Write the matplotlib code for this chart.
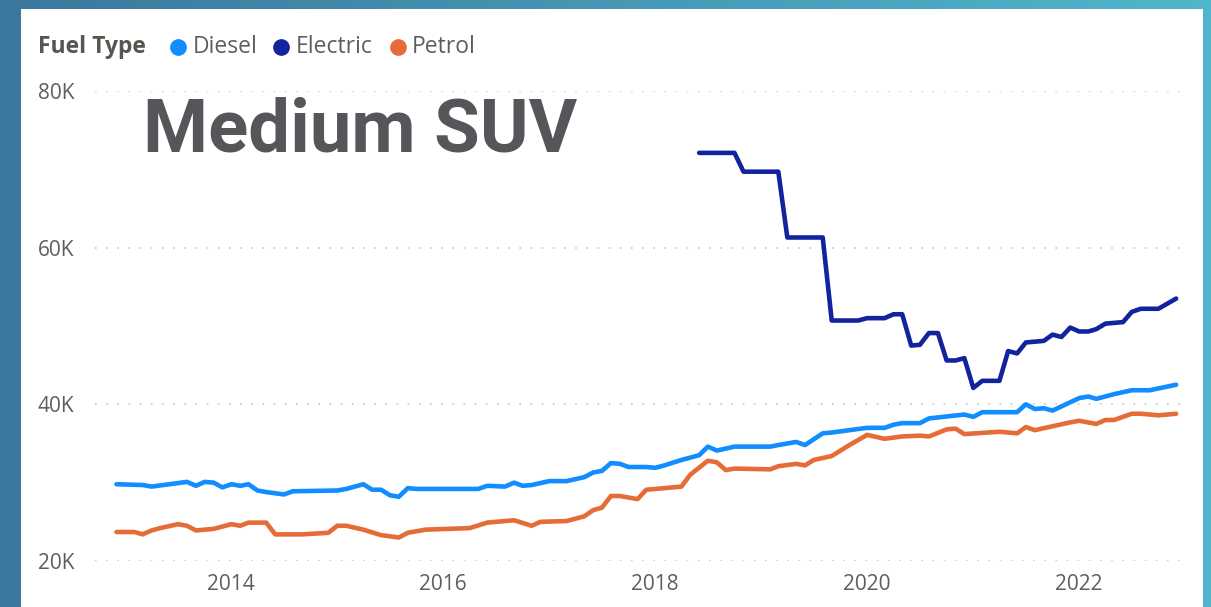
# Average price by fuel type, Medium SUV segment (Power BI style line chart)

import numpy as np, pandas as pd
import matplotlib
matplotlib.use("Agg")
from matplotlib import pyplot as plt
from matplotlib.patches import Rectangle
from matplotlib.lines import Line2D
import matplotlib.dates as mdates
from matplotlib.ticker import FuncFormatter

# Data (values in thousands)
diesel_months = ["2012-12", "2013-03", "2013-04", "2013-06", "2013-08", "2013-09", "2013-10", "2013-11",
                 "2013-12", "2014-01", "2014-02", "2014-03", "2014-04", "2014-05", "2014-07", "2014-08",
                 "2015-01", "2015-02", "2015-04", "2015-05", "2015-06", "2015-07", "2015-08", "2015-09",
                 "2015-10", "2016-05", "2016-06", "2016-08", "2016-09", "2016-10", "2016-11", "2017-01",
                 "2017-03", "2017-05", "2017-06", "2017-07", "2017-08", "2017-09", "2017-10", "2017-12",
                 "2018-01", "2018-02", "2018-04", "2018-06", "2018-07", "2018-08", "2018-10", "2019-02",
                 "2019-03", "2019-05", "2019-06", "2019-08", "2019-09", "2019-11", "2020-01", "2020-03",
                 "2020-04", "2020-05", "2020-07", "2020-08", "2020-12", "2021-01", "2021-02", "2021-06",
                 "2021-07", "2021-08", "2021-09", "2021-10", "2022-01", "2022-02", "2022-03", "2022-05",
                 "2022-07", "2022-09", "2022-12"]
diesel_values = [29.8, 29.7, 29.5, 29.8, 30.1, 29.6, 30.1, 30.0, 29.4, 29.8, 29.6, 29.8, 29.0, 28.8, 28.5,
                 28.9, 29.0, 29.2, 29.8, 29.1, 29.1, 28.4, 28.2, 29.3, 29.2, 29.2, 29.6, 29.5, 30.0, 29.6,
                 29.7, 30.2, 30.2, 30.7, 31.3, 31.5, 32.5, 32.4, 32.0, 32.0, 31.9, 32.2, 32.9, 33.5, 34.6,
                 34.1, 34.6, 34.6, 34.8, 35.2, 34.8, 36.3, 36.4, 36.7, 37.0, 37.0, 37.4, 37.6, 37.6, 38.2,
                 38.7, 38.4, 39.0, 39.0, 40.0, 39.4, 39.5, 39.2, 40.8, 41.0, 40.7, 41.3, 41.8, 41.8, 42.5]

petrol_months = ["2012-12", "2013-02", "2013-03", "2013-04", "2013-05", "2013-07", "2013-08", "2013-09",
                 "2013-11", "2014-01", "2014-02", "2014-03", "2014-05", "2014-06", "2014-09", "2014-12",
                 "2015-01", "2015-02", "2015-04", "2015-06", "2015-08", "2015-09", "2015-11", "2016-04",
                 "2016-06", "2016-09", "2016-11", "2016-12", "2017-03", "2017-05", "2017-06", "2017-07",
                 "2017-08", "2017-09", "2017-11", "2017-12", "2018-02", "2018-04", "2018-05", "2018-07",
                 "2018-08", "2018-09", "2018-10", "2019-02", "2019-03", "2019-05", "2019-06", "2019-07",
                 "2019-09", "2019-11", "2020-01", "2020-03", "2020-05", "2020-07", "2020-08", "2020-10",
                 "2020-11", "2020-12", "2021-04", "2021-06", "2021-07", "2021-08", "2021-10", "2021-12",
                 "2022-01", "2022-03", "2022-04", "2022-05", "2022-07", "2022-08", "2022-10", "2022-12"]
petrol_values = [23.7, 23.7, 23.4, 23.9, 24.2, 24.7, 24.5, 23.9, 24.1, 24.7, 24.5, 24.9, 24.9, 23.4, 23.4,
                 23.6, 24.5, 24.5, 24.0, 23.3, 23.0, 23.6, 24.0, 24.2, 24.9, 25.2, 24.5, 25.0, 25.1, 25.7,
                 26.5, 26.8, 28.3, 28.3, 27.9, 29.1, 29.3, 29.5, 31.0, 32.8, 32.6, 31.6, 31.8, 31.7, 32.1,
                 32.4, 32.2, 32.9, 33.4, 34.8, 36.1, 35.6, 35.9, 36.0, 35.9, 36.8, 36.9, 36.2, 36.5, 36.3,
                 37.1, 36.7, 37.2, 37.7, 37.9, 37.5, 38.0, 38.0, 38.8, 38.8, 38.6, 38.8]

electric_months = ["2018-06", "2018-10", "2018-11", "2019-03", "2019-04", "2019-08", "2019-09", "2019-12",
                   "2020-01", "2020-03", "2020-04", "2020-05", "2020-06", "2020-07", "2020-08", "2020-09",
                   "2020-10", "2020-11", "2020-12", "2021-01", "2021-02", "2021-04", "2021-05", "2021-06",
                   "2021-07", "2021-09", "2021-10", "2021-11", "2021-12", "2022-01", "2022-02", "2022-03",
                   "2022-04", "2022-06", "2022-07", "2022-08", "2022-10", "2022-12"]
electric_values = [72.1, 72.1, 69.7, 69.7, 61.3, 61.3, 50.7, 50.7, 51.0, 51.0, 51.5, 51.5, 47.5, 47.6,
                   49.1, 49.1, 45.6, 45.6, 45.9, 42.1, 43.0, 43.0, 46.8, 46.5, 47.9, 48.1, 48.9, 48.6,
                   49.8, 49.3, 49.3, 49.6, 50.3, 50.5, 51.8, 52.2, 52.2, 53.5]

series = [("Diesel", diesel_months, diesel_values, "#118DFF"),
          ("Electric", electric_months, electric_values, "#12239E"),
          ("Petrol", petrol_months, petrol_values, "#E66C37")]
year_ticks = [2014, 2016, 2018, 2020, 2022]
y_ticks = [20, 40, 60, 80]

W, H = 1211, 607
plt.rcParams["font.family"] = ["Open Sans", "DejaVu Sans"]
fig = plt.figure(figsize=(W / 100, H / 100), dpi=100)

def fx(x): return x / W
def fy(y): return 1 - y / H

# Blue gradient backdrop + white card
bg = fig.add_axes([0, 0, 1, 1], zorder=-10)
grad = np.linspace(0, 1, 256)
left, right = np.array([60, 120, 157]) / 255, np.array([80, 182, 204]) / 255
bg.imshow((left + grad[:, None] * (right - left))[None, :, :], aspect="auto", extent=[0, 1, 0, 1])
bg.axis("off")
fig.patches.append(Rectangle((fx(21), 0), fx(1203) - fx(21), fy(9), transform=fig.transFigure,
                             facecolor="white", edgecolor="none", zorder=-5))

ax = fig.add_axes([fx(95), fy(561), fx(1186) - fx(95), fy(91) - fy(561)])
ax.set_facecolor("none")
for name, months, vals, col in series:
    ax.plot(pd.to_datetime(months), vals, color=col, lw=3.3,
            solid_capstyle="round", solid_joinstyle="round")

ax.set_xlim(pd.Timestamp("2012-09-18"), pd.Timestamp("2023-01-04"))
ax.set_ylim(20, 80)
ax.set_yticks(y_ticks)
ax.yaxis.set_major_formatter(FuncFormatter(lambda v, p: f"{v:.0f}K"))
ax.set_xticks([pd.Timestamp(f"{y}-01-01") for y in year_ticks])
ax.xaxis.set_major_formatter(mdates.DateFormatter("%Y"))
ax.tick_params(length=0, labelsize=15, labelcolor="#605E5C")
ax.tick_params(axis="y", pad=15)
ax.tick_params(axis="x", pad=9)
ax.grid(axis="y", color="#C8C6C4", lw=1.2, dashes=(1, 5.7))
for s in ax.spines.values():
    s.set_visible(False)

# Legend drawn by hand, like the Power BI header
fig.text(fx(38), fy(47), "Fuel Type", fontsize=16.5, fontweight="bold", color="#5A5550", va="center")
for (name, _, _, col), cx, tx in zip(series, [178, 281, 398], [193, 296, 412]):
    fig.add_artist(Line2D([fx(cx)], [fy(47)], marker="o", ms=11, color=col, transform=fig.transFigure))
    fig.text(fx(tx), fy(47), name, fontsize=16.5, color="#605E5C", va="center")

fig.text(fx(143), fy(152), "Medium SUV", family="Roboto", fontweight="bold", fontsize=53.5,
         color="#55565A", va="baseline")

plt.savefig("out.png", dpi=100)
